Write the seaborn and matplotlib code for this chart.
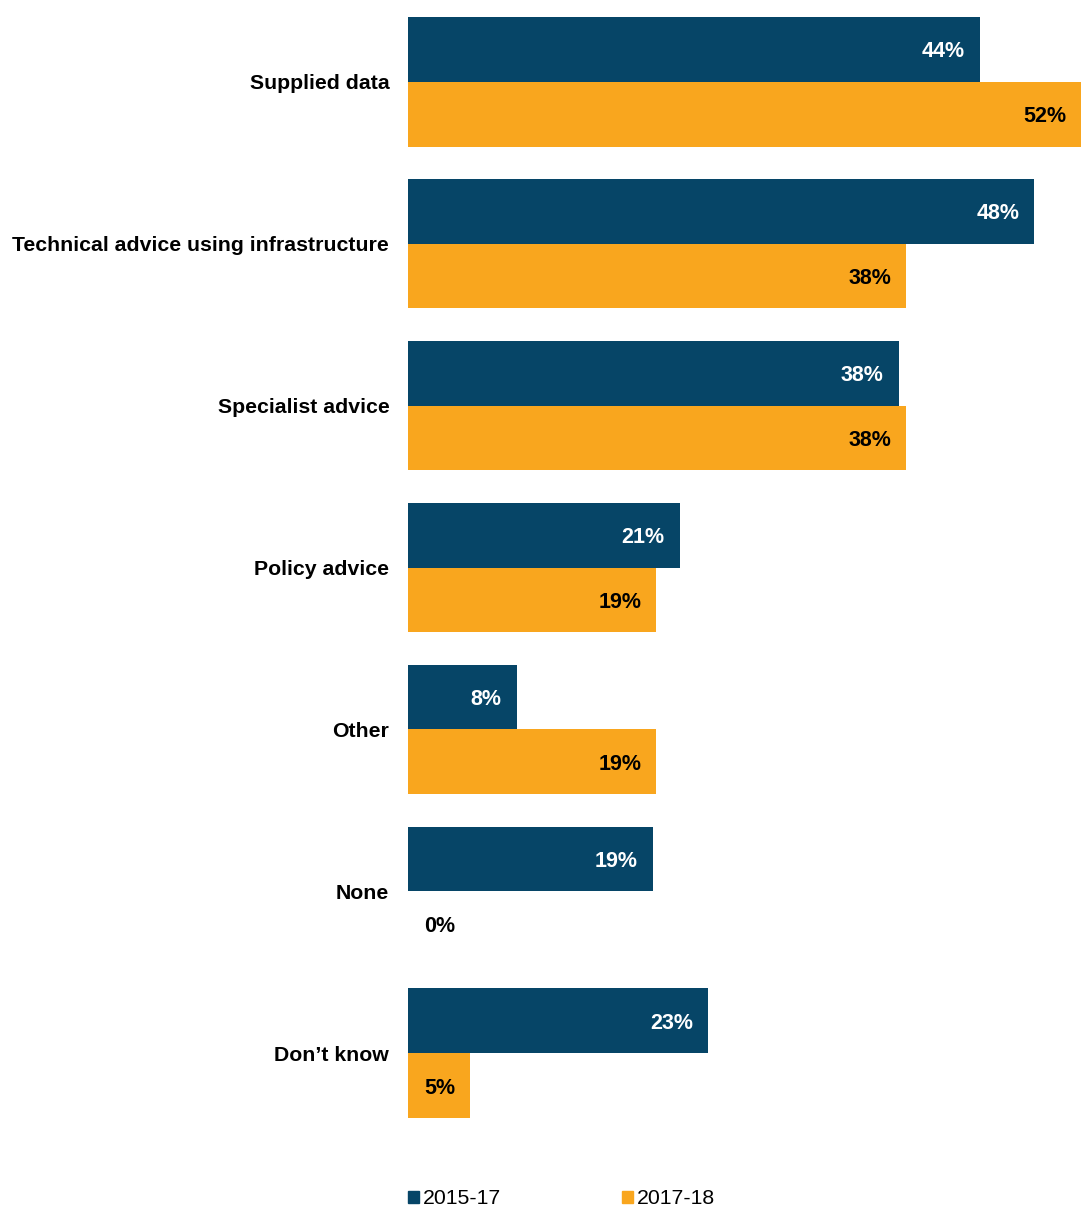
import pandas as pd
import matplotlib.pyplot as plt
import seaborn as sns
from matplotlib.patches import Patch

categories = ['Supplied data', 'Technical advice using infrastructure', 'Specialist advice',
              'Policy advice', 'Other', 'None', 'Don\u2019t know']
# bar lengths (labels show them rounded)
values_2015 = [44.2, 48.4, 37.9, 21.0, 8.4, 18.9, 23.2]
values_2017 = [52.0, 38.5, 38.5, 19.2, 19.2, 0.0, 4.8]
periods = ['2015-17', '2017-18']
colors = ['#064567', '#F9A61E']

df = pd.DataFrame({
    'category': categories * 2,
    'value': values_2015 + values_2017,
    'period': [periods[0]] * len(categories) + [periods[1]] * len(categories),
})

sns.set_style('white')
plt.rcParams['font.family'] = ['Liberation Sans', 'DejaVu Sans']

fig = plt.figure(figsize=(10.81, 12.07), dpi=100)
ax = fig.add_axes([408 / 1081, 89 / 1207, 673 / 1081, 1101 / 1207])

sns.barplot(data=df, y='category', x='value', hue='period', palette=colors,
            width=0.8, orient='h', ax=ax, legend=False, saturation=1, linewidth=0)

ax.set_xlim(0, max(values_2015 + values_2017))
ax.set_ylim(6.4, -0.4)
ax.set_xlabel('')
ax.set_ylabel('')
ax.set_xticks([])
for s in ax.spines.values():
    s.set_visible(False)
ax.tick_params(axis='y', length=0, pad=13.5)
for t in ax.get_yticklabels():
    t.set_fontweight('bold')
    t.set_fontsize(15.3)
    t.set_color('black')

# value labels inside bar ends
for container, txt_color in zip(ax.containers, ['white', 'black']):
    for bar in container:
        w = bar.get_width()
        y = bar.get_y() + bar.get_height() / 2
        if w == 0:
            ax.annotate(f'{w:.0f}%', (0, y), xytext=(16, 0), textcoords='offset pixels',
                        ha='left', va='center_baseline', fontsize=15.5, fontweight='bold',
                        color='black')
        else:
            ax.annotate(f'{w:.0f}%', (w, y), xytext=(-15, 0), textcoords='offset pixels',
                        ha='right', va='center_baseline', fontsize=15.5, fontweight='bold',
                        color=txt_color)

handles = [Patch(color=c, label=p) for c, p in zip(colors, periods)]
fig.legend(handles=handles, loc='center left', bbox_to_anchor=(408 / 1081, 8 / 1207),
           ncol=2, frameon=False, fontsize=15.3, handlelength=0.5, handleheight=0.5,
           handletextpad=0.2, columnspacing=5.7, borderaxespad=0, borderpad=0,
           labelcolor='black')

fig.savefig('out.png', dpi=100)
